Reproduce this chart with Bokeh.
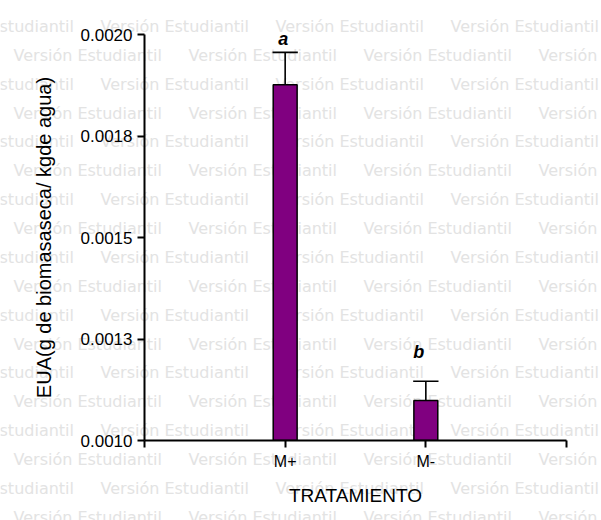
from bokeh.plotting import figure
from bokeh.models import Range1d, FixedTicker, ColumnDataSource
from bokeh.core.properties import value
from bokeh.embed import file_html
from bokeh.resources import INLINE

# ---- data ----
categories = ["M+", "M-"]
means = [0.001876, 0.0010985]
errors = [0.000080, 0.0000475]
letters = ["a", "b"]
letter_y = [0.00199, 0.001217]
y_ticks = [0.0010, 0.00125, 0.0015, 0.00175, 0.0020]
y_tick_labels = ["0.0010", "0.0013", "0.0015", "0.0018", "0.0020"]
watermark_text = "Versión Estudiantil"

W, H = 601, 520

# ---- background layer: the repeated watermark over the whole page ----
wm = figure(width=W, height=H, output_backend="svg", toolbar_location=None,
            x_range=Range1d(0, W), y_range=Range1d(H, 0),
            x_axis_location=None, y_axis_location=None, min_border=0)
wm.xgrid.visible = False
wm.ygrid.visible = False
wm.outline_line_color = None
wx, wy = [], []
for k in range(18):
    base = 26 + 28.87 * k
    x = -75 if k % 2 == 0 else 13
    while x < W:
        wx.append(x)
        wy.append(base)
        x += 175
wm.text(x=wx, y=wy, text=[watermark_text] * len(wx), text_font=value("DejaVu Sans"),
        text_font_size="16px", text_color="#e3e3e3", text_baseline="alphabetic",
        text_align="left")

# ---- main chart, transparent, laid over the watermark ----
BL, BR, BT, BB = 144, 35, 34, 80
p = figure(width=W, height=H, output_backend="svg", toolbar_location=None,
           x_range=Range1d(0, len(categories) + 1), y_range=Range1d(0.001, 0.002),
           min_border_left=BL, min_border_right=BR, min_border_top=BT, min_border_bottom=BB,
           styles={"position": "absolute", "top": "0px", "left": "0px"})
p.outline_line_color = None
p.xgrid.visible = False
p.ygrid.visible = False
p.background_fill_color = None
p.border_fill_color = None

xs = list(range(1, len(categories) + 1))
tops = [m + e for m, e in zip(means, errors)]
src = ColumnDataSource(dict(x=xs, top=means, err_top=tops,
                            cap_l=[x - 0.09 for x in xs], cap_r=[x + 0.09 for x in xs],
                            letter=letters, ly=letter_y, lxo=[-2, -7]))
p.segment(x0="x", y0="top", x1="x", y1="err_top", source=src, line_color="black", line_width=1.6)
p.segment(x0="cap_l", y0="err_top", x1="cap_r", y1="err_top", source=src,
          line_color="black", line_width=1.6)
p.vbar(x="x", top="top", bottom=0.001, width=0.17, source=src,
       fill_color="#800080", line_color="black", line_width=1.5)
p.text(x="x", y="ly", text="letter", source=src, text_font=value("Liberation Sans"),
       text_font_size="18px", text_font_style="bold italic", text_align="center",
       text_baseline="middle", text_color="black", x_offset="lxo")

for ax in (p.xaxis[0], p.yaxis[0]):
    ax.axis_line_width = 2
    ax.axis_line_color = "black"
    ax.major_tick_line_width = 2
    ax.major_tick_line_color = "black"
    ax.major_tick_in = 0
    ax.major_tick_out = 7
    ax.minor_tick_line_color = None
    ax.major_label_text_font = "Liberation Sans"
    ax.major_label_text_color = "black"
    ax.axis_label_text_font = "Liberation Sans"
    ax.axis_label_text_font_style = "normal"
    ax.axis_label_text_color = "black"

p.xaxis.ticker = FixedTicker(ticks=[0] + xs + [len(categories) + 1])
p.xaxis.major_label_overrides = {0: "", **{x: c for x, c in zip(xs, categories)}, len(categories) + 1: ""}
p.xaxis.major_label_text_font_size = "16px"
p.xaxis.major_label_standoff = 5
p.xaxis.axis_label = "TRATAMIENTO"
p.xaxis.axis_label_text_font_size = "19px"
p.xaxis.axis_label_standoff = 12

p.yaxis.ticker = FixedTicker(ticks=y_ticks)
p.yaxis.major_label_overrides = {t: l for t, l in zip(y_ticks, y_tick_labels)}
p.yaxis.major_label_text_font_size = "17px"
p.yaxis.major_label_standoff = 5
p.yaxis.axis_label = "EUA(g de biomasaseca/ kgde agua)"
p.yaxis.axis_label_text_font_size = "20px"
p.yaxis.axis_label_standoff = 23

open("out.html", "w").write(file_html([wm, p], INLINE))
